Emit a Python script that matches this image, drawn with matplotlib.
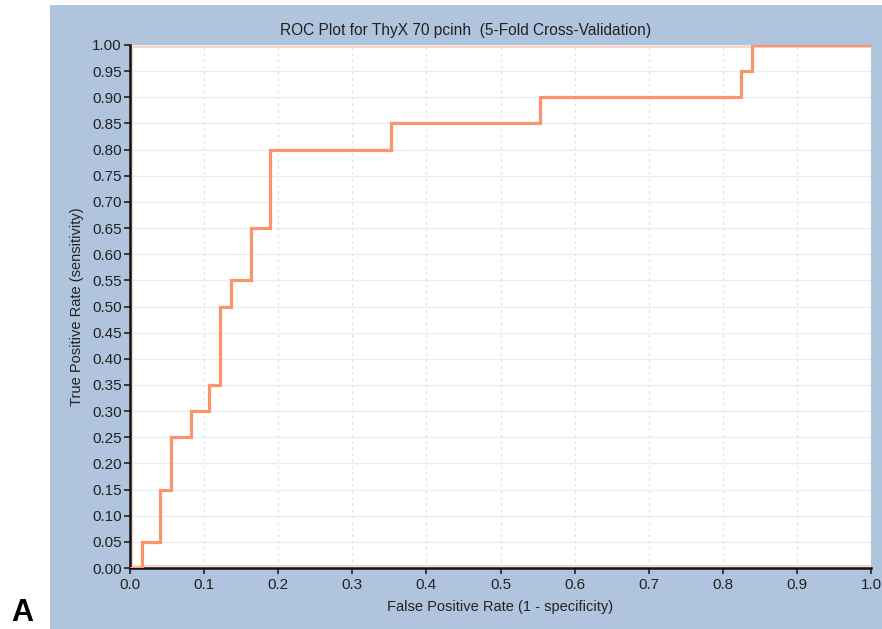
import matplotlib
matplotlib.use("Agg")
import matplotlib.pyplot as plt
from matplotlib.patches import Rectangle

plt.rcParams['font.family'] = ['Liberation Sans', 'DejaVu Sans']

# ROC step curve (false positive rate, true positive rate)
fpr = [0.0, 0.016, 0.016, 0.041, 0.041, 0.055, 0.055, 0.082, 0.082, 0.107, 0.107,
       0.122, 0.122, 0.136, 0.136, 0.163, 0.163, 0.189, 0.189, 0.352, 0.352,
       0.553, 0.553, 0.825, 0.825, 0.840, 0.840, 1.0]
tpr = [0.0, 0.0, 0.05, 0.05, 0.15, 0.15, 0.25, 0.25, 0.30, 0.30, 0.35,
       0.35, 0.50, 0.50, 0.55, 0.55, 0.65, 0.65, 0.80, 0.80, 0.85,
       0.85, 0.90, 0.90, 0.95, 0.95, 1.0, 1.0]

x_ticks = [i / 10 for i in range(11)]
y_ticks = [i / 20 for i in range(21)]

fig = plt.figure(figsize=(8.82, 6.29), dpi=100)
fig.patch.set_facecolor('white')

# blue panel behind the chart
fig.patches.append(Rectangle((50 / 882, 0), 1 - 50 / 882, 1 - 5 / 629,
                             transform=fig.transFigure, facecolor='#B0C4DE',
                             edgecolor='none', zorder=-5))

ax = fig.add_axes([130 / 882, 61 / 629, 741 / 882, 523 / 629])
ax.set_zorder(2)
ax.set_facecolor('white')

for y in y_ticks:
    ax.axhline(y, color='#e6eef7', lw=0.9, zorder=1)
for x in x_ticks:
    ax.axvline(x, color='#d6e3f0', lw=0.9, ls=(0, (2, 3)), zorder=1)

# faint border traces from the other folds
ax.plot([0, 1], [0.003, 0.003], color='#fbd5c4', lw=1.5, zorder=2)
ax.plot([0, 1], [0.997, 0.997], color='#fbd5c4', lw=1.5, zorder=2)
ax.plot([0.003, 0.003], [0, 1], color='#fbd5c4', lw=1.5, zorder=2)

ax.plot(fpr, tpr, color='#F9946C', lw=2.3, solid_joinstyle='miter', zorder=3)

ax.set_xlim(0, 1)
ax.set_ylim(0, 1)
ax.set_xticks(x_ticks)
ax.set_xticklabels(['%.1f' % v for v in x_ticks])
ax.set_yticks(y_ticks)
ax.set_yticklabels(['%.2f' % v for v in y_ticks])

for side in ['top', 'right']:
    ax.spines[side].set_visible(False)
for side in ['left', 'bottom']:
    ax.spines[side].set_linewidth(1.8)
    ax.spines[side].set_color('#111111')

ax.tick_params(direction='out', length=4, width=1.2, labelsize=11,
               colors='#222222', pad=2)
ax.tick_params(axis='x', pad=3)

ax.set_xlabel('False Positive Rate (1 - specificity)', fontsize=10.5,
              color='#222222', labelpad=6)
ax.set_ylabel('True Positive Rate (sensitivity)', fontsize=10.5,
              color='#222222', labelpad=6)

fig.text(466 / 882, 1 - 30 / 629, 'ROC Plot for ThyX 70 pcinh  (5-Fold Cross-Validation)',
         ha='center', va='center', fontsize=11.2, color='#222222')

# panel letter in the bottom-left corner
fig.text(11 / 882, 1 / 629, 'A', ha='left', va='bottom', fontsize=22,
         fontweight='bold', color='black')

fig.savefig('out.png', dpi=100)
